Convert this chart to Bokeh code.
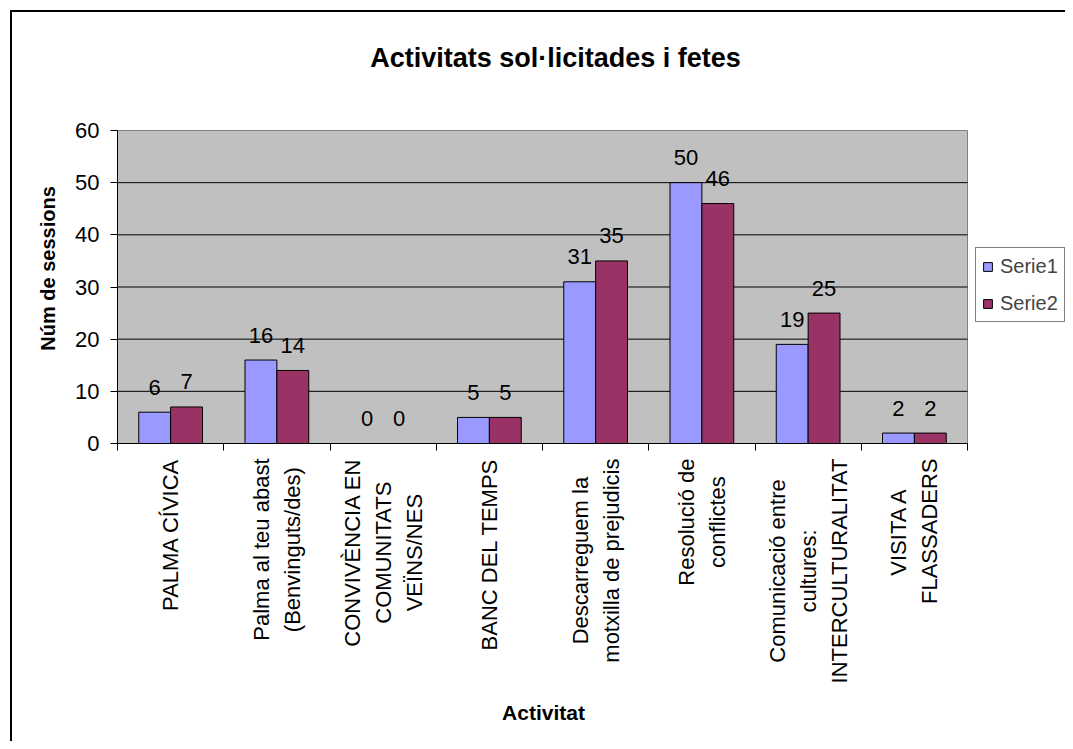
import math
from bokeh.plotting import figure
from bokeh.models import Range1d, FixedTicker, Legend, LegendItem, Label, ColumnDataSource
from bokeh.core.properties import value
from bokeh.embed import file_html
from bokeh.resources import INLINE

# ---------------- data ----------------
categories = [
    "PALMA CÍVICA",
    "Palma al teu abast\n(Benvinguts/des)",
    "CONVIVÈNCIA EN\nCOMUNITATS\nVEÏNS/NES",
    "BANC DEL TEMPS",
    "Descarreguem la\nmotxilla de prejudicis",
    "Resolució de\nconflictes",
    "Comunicació entre\ncultures:\nINTERCULTURALITAT",
    "VISITA A\nFLASSADERS",
]
serie1 = [6, 16, 0, 5, 31, 50, 19, 2]
serie2 = [7, 14, 0, 5, 35, 46, 25, 2]
series_names = ["Serie1", "Serie2"]
y_ticks = [0, 10, 20, 30, 40, 50, 60]
title_text = "Activitats sol·licitades i fetes"
x_title = "Activitat"
y_title = "Núm de sessions"

FONT = "Liberation Sans"
C1 = "#9999FF"
C2 = "#993366"
PLOT_BG = "#C0C0C0"

n = len(categories)
centers = [i + 0.5 for i in range(n)]
bounds = [float(i) for i in range(n + 1)]
BW = 0.30
YMAX = y_ticks[-1]

# ---------------- geometry (canvas pixels) ----------------
W, H = 1065, 741
FL, FR, FT, FB = 117, 967, 130, 443   # plot-area edges
SX = (FR - FL) / n        # px per category
SY = (FB - FT) / YMAX     # px per unit


def dx(px):
    return (px - FL) / SX


def dy(py):
    return (FB - py) / SY


# the Bokeh frame covers the whole canvas; axes sit at fixed locations
p = figure(
    width=W, height=H,
    x_range=Range1d(dx(0), dx(W)), y_range=Range1d(dy(H), dy(0)),
    output_backend="svg", toolbar_location=None,
    min_border=0, min_border_left=0, min_border_right=0,
    min_border_top=0, min_border_bottom=0,
    background_fill_color=None, border_fill_color=None,
    outline_line_color=None,
)
# chart-area frame (left and top edges visible in the window)
p.styles = {"box-shadow": "inset 10px 10px 0 0 #ffffff, inset 12px 12px 0 0 #000000"}

p.xgrid.visible = False
p.ygrid.visible = False

# plot area + gridlines
p.quad(left=0, right=n, bottom=0, top=YMAX, fill_color=PLOT_BG,
       line_color="#808080", line_width=1)
grid_vals = [t for t in y_ticks if 0 < t < YMAX]
p.segment(x0=[0] * len(grid_vals), x1=[n] * len(grid_vals),
          y0=grid_vals, y1=grid_vals, line_color="#000000", line_width=1)

# y axis
ya = p.yaxis[0]
ya.fixed_location = 0
ya.bounds = (0, YMAX)
ya.ticker = FixedTicker(ticks=y_ticks)
ya.major_tick_out = 7
ya.major_tick_in = 0
ya.minor_tick_out = 0
ya.minor_tick_in = 0
ya.axis_line_color = "#000000"
ya.major_tick_line_color = "#000000"
ya.major_label_text_font = FONT
ya.major_label_text_font_size = "22px"
ya.major_label_text_color = "#000000"
ya.major_label_standoff = 11

# x axis: tick marks at the category boundaries
xa = p.xaxis[0]
xa.fixed_location = 0
xa.bounds = (0, n)
xa.ticker = FixedTicker(ticks=[], minor_ticks=bounds)
xa.major_tick_out = 0
xa.major_tick_in = 0
xa.minor_tick_out = 7
xa.minor_tick_in = 0
xa.minor_tick_line_color = "#000000"
xa.axis_line_color = "#000000"

# category labels: rotated, lines centred, block ending just under the axis
cat_src = ColumnDataSource(dict(x=centers, y=[0] * n, text=categories))
p.text(x="x", y="y", text="text", source=cat_src, angle=math.pi / 2,
       anchor="center_right", text_align="center",
       text_font=value(FONT), text_font_size="22px", text_color="#000000",
       text_line_height=1.24, y_offset=15)

# bars
src = ColumnDataSource(dict(
    x1=[c - BW / 2 for c in centers], x2=[c + BW / 2 for c in centers],
    s1=serie1, s2=serie2,
    t1=[str(v) for v in serie1], t2=[str(v) for v in serie2],
))
r1 = p.vbar(x="x1", top="s1", bottom=0, width=BW, source=src,
            fill_color=C1, line_color="#000000", line_width=1)
r2 = p.vbar(x="x2", top="s2", bottom=0, width=BW, source=src,
            fill_color=C2, line_color="#000000", line_width=1)

# data labels
for xc, yc, tc in (("x1", "s1", "t1"), ("x2", "s2", "t2")):
    p.text(x=xc, y=yc, text=tc, source=src,
           text_font=value(FONT), text_font_size="22px", text_color="#000000",
           text_align="center", text_baseline="middle", y_offset=-25)

# chart title and axis titles
p.add_layout(Label(x=dx(555), y=dy(57), text=title_text, text_font=FONT,
                   text_font_size="27px", text_font_style="bold",
                   text_align="center", text_baseline="alphabetic",
                   text_color="#000000"))
p.add_layout(Label(x=dx(47), y=dy(268), text=y_title, text_font=FONT,
                   text_font_size="20px", text_font_style="bold",
                   angle=math.pi / 2, text_align="center", text_baseline="middle",
                   text_color="#000000"))
p.add_layout(Label(x=dx(543), y=dy(712), text=x_title, text_font=FONT,
                   text_font_size="21px", text_font_style="bold",
                   text_align="center", text_baseline="middle",
                   text_color="#000000"))

# legend
legend = Legend(
    items=[LegendItem(label=series_names[0], renderers=[r1]),
           LegendItem(label=series_names[1], renderers=[r2])],
    location=(975, H - 322),
    label_text_font=FONT, label_text_font_size="20px",
    glyph_width=11, glyph_height=11, label_standoff=7,
    padding=6, spacing=13, label_height=24, margin=0,
    border_line_color="#000000", border_line_width=1,
    background_fill_color="white", background_fill_alpha=1,
)
p.add_layout(legend, "center")

open("out.html", "w").write(file_html(p, INLINE))
